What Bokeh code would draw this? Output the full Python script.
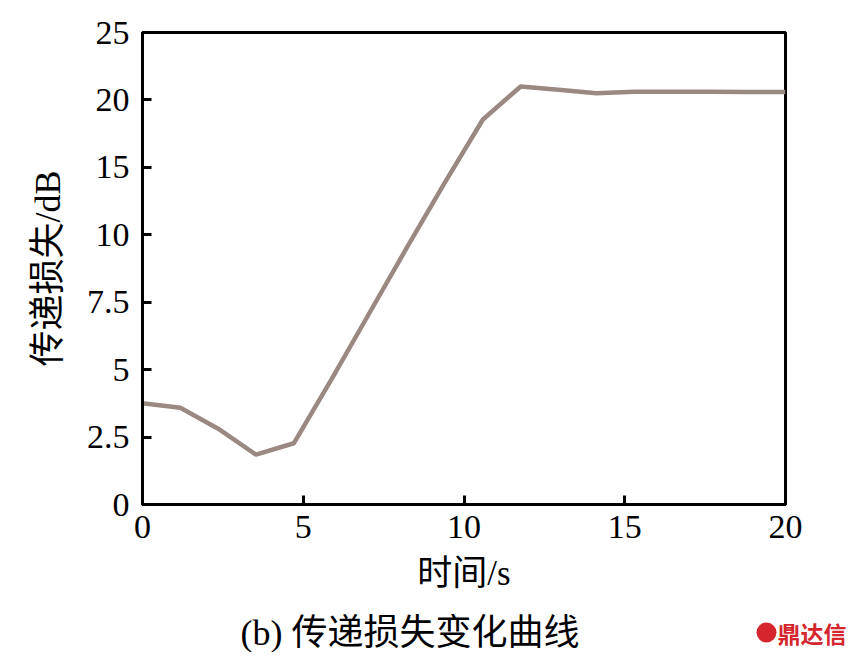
from bokeh.plotting import figure
from bokeh.models import FixedTicker, Range1d
from bokeh.layouts import column
from bokeh.core.properties import value
from bokeh.embed import file_html
from bokeh.resources import INLINE
import numpy as np

# Data
time_s = [i * 20 / 17 for i in range(18)]
loss_db = [3.75, 3.59, 2.81, 1.85, 2.27, 4.65, 7.1, 9.55, 13.9, 18.55,
           21.0, 20.75, 20.5, 20.6, 20.6, 20.6, 20.58, 20.58]

# The y axis is non-uniform: equally spaced ticks carrying these values
y_tick_values = [0, 2.5, 5, 7.5, 10, 15, 20, 25]
y_tick_labels = ["0", "2.5", "5", "7.5", "10", "15", "20", "25"]
x_ticks = [0, 5, 10, 15, 20]

x_label = "时间/s"
y_label = "传递损失/dB"
caption = "(b)  传递损失变化曲线"
watermark = "鼎达信"

FONT = "'Liberation Serif', 'Times New Roman', 'Noto Sans CJK SC'"
W = 850

y_pos = np.interp(loss_db, y_tick_values, list(range(len(y_tick_values))))

p = figure(width=W, height=600, output_backend="svg", toolbar_location=None,
           x_range=Range1d(0, 20), y_range=Range1d(0, 7),
           min_border_left=142, min_border_right=W - 785, min_border_top=32,
           min_border_bottom=600 - 504)
p.frame_align = False
p.background_fill_color = "white"
p.border_fill_color = "white"
p.outline_line_color = "black"
p.outline_line_width = 3
p.xgrid.visible = False
p.ygrid.visible = False

p.line(time_s, y_pos, line_color="#9a8883", line_width=4.5)

for ax in (p.xaxis[0], p.yaxis[0]):
    ax.axis_line_width = 3
    ax.axis_line_color = "black"
    ax.major_tick_line_width = 3
    ax.major_tick_line_color = "black"
    ax.major_tick_in = 9
    ax.major_tick_out = 0
    ax.minor_tick_line_color = None
    ax.major_label_text_font = FONT
    ax.major_label_text_font_size = "34px"
    ax.major_label_text_color = "black"
    ax.axis_label_text_font = FONT
    ax.axis_label_text_font_style = "normal"
    ax.axis_label_text_color = "black"

p.xaxis.ticker = FixedTicker(ticks=x_ticks)
p.xaxis.major_label_standoff = 11
p.xaxis.axis_label = x_label
p.xaxis.axis_label_text_font_size = "35px"
p.xaxis.axis_label_standoff = 13

p.yaxis.ticker = FixedTicker(ticks=list(range(len(y_tick_values))))
p.yaxis.major_label_overrides = {float(i): lab for i, lab in enumerate(y_tick_labels)}
p.yaxis.major_label_standoff = 13
p.yaxis.axis_label = y_label
p.yaxis.axis_label_text_font_size = "36px"
p.yaxis.axis_label_standoff = 16

# Caption strip below the chart (its frame spans the full width)
c = figure(width=W, height=52, output_backend="svg", toolbar_location=None,
           x_range=Range1d(0, W), y_range=Range1d(0, 52),
           min_border=0, min_border_left=0, min_border_right=0,
           min_border_top=0, min_border_bottom=0)
c.frame_align = False
c.axis.visible = False
c.grid.visible = False
c.outline_line_color = None
c.background_fill_color = "white"
c.border_fill_color = "white"
c.text(x=[240], y=[20], text=[caption], text_font=value(FONT),
       text_font_size="36px", text_color="black",
       text_baseline="middle", text_align="left")
c.scatter(x=[766], y=[20], size=20, marker="circle", fill_color="#d4262c",
          line_color=None)
c.text(x=[777], y=[20], text=[watermark], text_font=value("Noto Sans CJK SC"),
       text_font_size="23px", text_font_style="bold", text_color="#d4262c",
       text_baseline="middle", text_align="left")

layout = column(p, c, spacing=0)
open("out.html", "w").write(file_html(layout, INLINE))
